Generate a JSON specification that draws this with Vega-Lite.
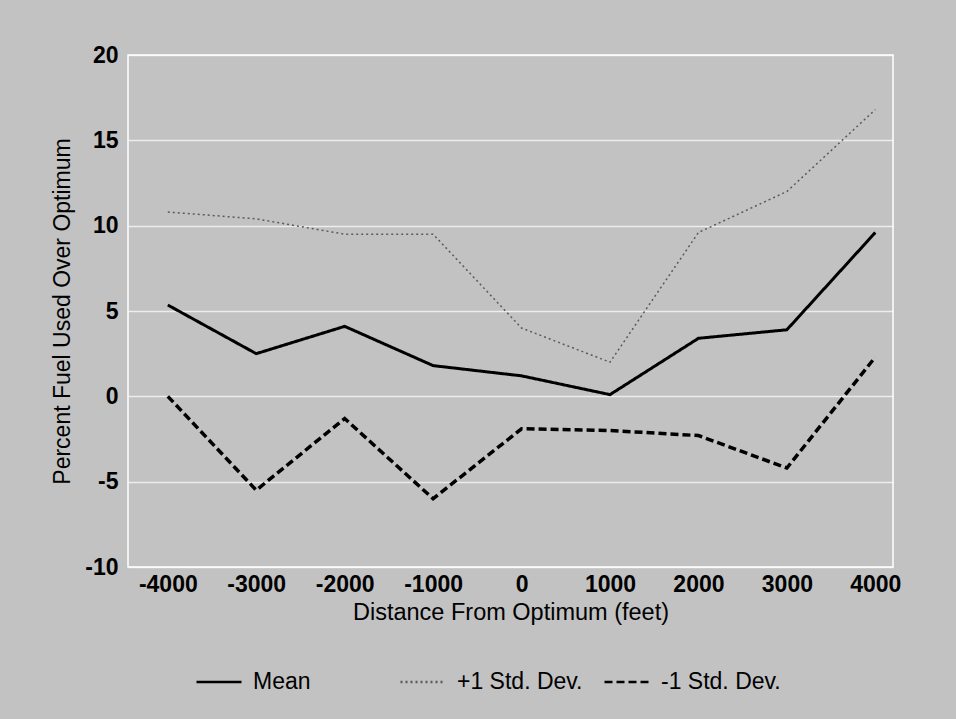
{
  "$schema": "https://vega.github.io/schema/vega-lite/v6.json",
  "autosize": {"type": "none"},
  "width": 765,
  "height": 512,
  "padding": {"left": 128, "top": 55, "right": 63, "bottom": 152},
  "background": "#c2c2c2",
  "config": {
    "view": {"stroke": "#ffffff", "strokeWidth": 1.5, "fill": "#c2c2c2"},
    "font": "Liberation Sans",
    "axis": {"labelFont": "Liberation Sans", "titleFont": "Liberation Sans", "labelColor": "#000", "titleColor": "#000", "labelFontWeight": "bold", "titleFontWeight": "normal"},
    "legend": {"labelFont": "Liberation Sans", "labelColor": "#000"}
  },
  "data": {
    "values": [
      {"d": -4000, "v": 5.35, "s": "Mean"},
      {"d": -3000, "v": 2.5, "s": "Mean"},
      {"d": -2000, "v": 4.1, "s": "Mean"},
      {"d": -1000, "v": 1.8, "s": "Mean"},
      {"d": 0, "v": 1.2, "s": "Mean"},
      {"d": 1000, "v": 0.1, "s": "Mean"},
      {"d": 2000, "v": 3.4, "s": "Mean"},
      {"d": 3000, "v": 3.9, "s": "Mean"},
      {"d": 4000, "v": 9.6, "s": "Mean"},
      {"d": -4000, "v": 10.8, "s": "+1 Std. Dev."},
      {"d": -3000, "v": 10.4, "s": "+1 Std. Dev."},
      {"d": -2000, "v": 9.5, "s": "+1 Std. Dev."},
      {"d": -1000, "v": 9.5, "s": "+1 Std. Dev."},
      {"d": 0, "v": 4.0, "s": "+1 Std. Dev."},
      {"d": 1000, "v": 2.0, "s": "+1 Std. Dev."},
      {"d": 2000, "v": 9.6, "s": "+1 Std. Dev."},
      {"d": 3000, "v": 12.0, "s": "+1 Std. Dev."},
      {"d": 4000, "v": 16.8, "s": "+1 Std. Dev."},
      {"d": -4000, "v": 0.0, "s": "-1 Std. Dev."},
      {"d": -3000, "v": -5.5, "s": "-1 Std. Dev."},
      {"d": -2000, "v": -1.3, "s": "-1 Std. Dev."},
      {"d": -1000, "v": -6.0, "s": "-1 Std. Dev."},
      {"d": 0, "v": -1.9, "s": "-1 Std. Dev."},
      {"d": 1000, "v": -2.0, "s": "-1 Std. Dev."},
      {"d": 2000, "v": -2.3, "s": "-1 Std. Dev."},
      {"d": 3000, "v": -4.2, "s": "-1 Std. Dev."},
      {"d": 4000, "v": 2.3, "s": "-1 Std. Dev."}
    ]
  },
  "mark": {"type": "line"},
  "encoding": {
    "x": {
      "field": "d", "type": "quantitative",
      "scale": {"domain": [-4450, 4200], "nice": false, "zero": false},
      "axis": {"values": [-4000, -3000, -2000, -1000, 0, 1000, 2000, 3000, 4000], "labelExpr": "'' + datum.value", "grid": false, "domain": false, "ticks": false, "labelPadding": 6, "labelFontSize": 23, "title": "Distance From Optimum (feet)", "titleFontSize": 23.5, "titlePadding": 4}
    },
    "y": {
      "field": "v", "type": "quantitative",
      "scale": {"domain": [-10, 20], "nice": false},
      "axis": {"values": [-10, -5, 0, 5, 10, 15, 20], "labelExpr": "'' + datum.value", "grid": true, "gridColor": "#ffffff", "gridOpacity": 0.7, "gridWidth": 1.5, "domain": false, "ticks": false, "labelPadding": 10, "labelFontSize": 23, "title": "Percent Fuel Used Over Optimum", "titleFontSize": 23, "titlePadding": 10}
    },
    "color": {
      "field": "s", "type": "nominal",
      "scale": {"domain": ["Mean", "+1 Std. Dev.", "-1 Std. Dev."], "range": ["#000000", "#5a5a5a", "#000000"]},
      "legend": {"orient": "none", "legendX": 67, "legendY": 603, "direction": "horizontal", "title": null, "gridAlign": "all", "symbolType": "stroke", "symbolSize": 2025, "symbolStrokeWidth": 2.5, "labelFontSize": 23, "labelOffset": 10, "columnPadding": 16}
    },
    "strokeDash": {
      "field": "s", "type": "nominal",
      "scale": {"domain": ["Mean", "+1 Std. Dev.", "-1 Std. Dev."], "range": [[1, 0], [2, 3], [8, 4]]},
      "legend": null
    },
    "strokeWidth": {
      "condition": [
        {"test": "datum.s === '-1 Std. Dev.'", "value": 3.5},
        {"test": "datum.s === '+1 Std. Dev.'", "value": 1.5}
      ],
      "value": 3
    }
  }
}
